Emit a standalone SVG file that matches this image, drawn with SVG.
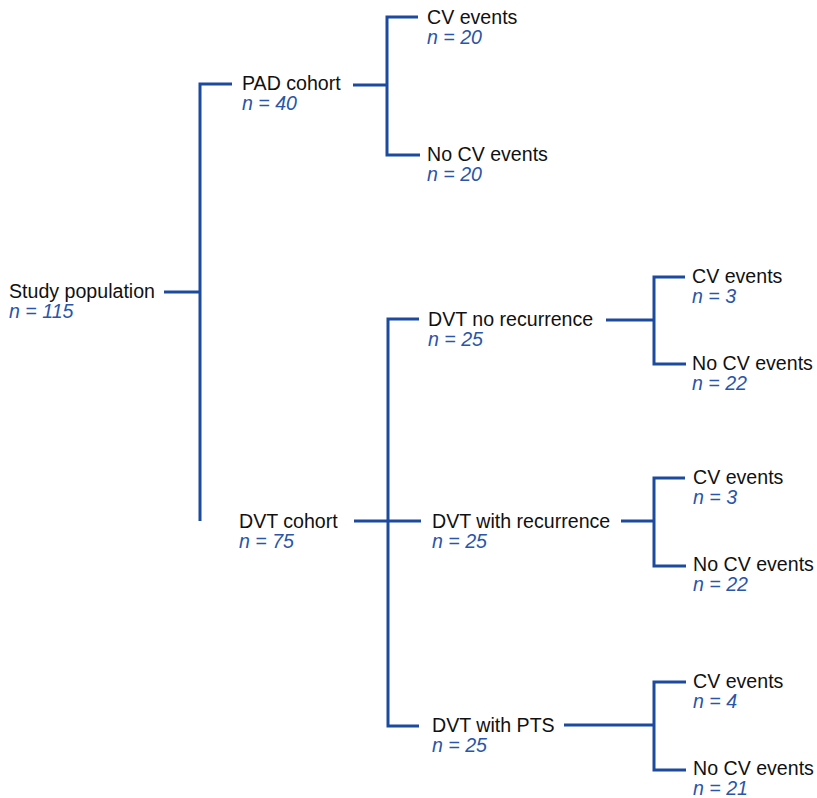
<svg xmlns="http://www.w3.org/2000/svg" width="817" height="798" viewBox="0 0 817 798">
<style>
.t{font-family:"Liberation Sans",Arial,sans-serif;font-size:19.6px;fill:#111}
.n{font-family:"Liberation Sans",Arial,sans-serif;font-size:19.6px;font-style:italic;fill:#2a55a8}
.c{stroke:#1b4a9e;stroke-width:3;fill:none}
</style>
<rect width="817" height="798" fill="#fff"/>
<g id="connectors">
<path class="c" d="M164 292H200M232 84H200V521"/>
<path class="c" d="M353 85H387M418 17H387V155H420"/>
<path class="c" d="M354 521H421M419 319H388V726H419"/>
<path class="c" d="M606 320H654M685 277H654V364H686"/>
<path class="c" d="M621 521H654M685 478H654V566H686"/>
<path class="c" d="M564 725H654M686 682H654V770H686"/>
</g>
<g id="study"><text class="t" x="9" y="298">Study population</text><text class="n" x="9" y="318">n = 115</text></g>
<g id="pad"><text class="t" x="242" y="90">PAD cohort</text><text class="n" x="242" y="110">n = 40</text></g>
<g id="pad-cv"><text class="t" x="427" y="24">CV events</text><text class="n" x="427" y="44">n = 20</text></g>
<g id="pad-nocv"><text class="t" x="427" y="161">No CV events</text><text class="n" x="427" y="181">n = 20</text></g>
<g id="dvt"><text class="t" x="239" y="528">DVT cohort</text><text class="n" x="239" y="548">n = 75</text></g>
<g id="dvt-norec"><text class="t" x="428" y="326">DVT no recurrence</text><text class="n" x="428" y="346">n = 25</text></g>
<g id="dvt-rec"><text class="t" x="432" y="528">DVT with recurrence</text><text class="n" x="432" y="548">n = 25</text></g>
<g id="dvt-pts"><text class="t" x="432" y="732">DVT with PTS</text><text class="n" x="432" y="752">n = 25</text></g>
<g id="norec-cv"><text class="t" x="692" y="283">CV events</text><text class="n" x="692" y="303">n = 3</text></g>
<g id="norec-nocv"><text class="t" x="692" y="370">No CV events</text><text class="n" x="692" y="390">n = 22</text></g>
<g id="rec-cv"><text class="t" x="693" y="484">CV events</text><text class="n" x="693" y="504">n = 3</text></g>
<g id="rec-nocv"><text class="t" x="693" y="571">No CV events</text><text class="n" x="693" y="591">n = 22</text></g>
<g id="pts-cv"><text class="t" x="693" y="688">CV events</text><text class="n" x="693" y="708">n = 4</text></g>
<g id="pts-nocv"><text class="t" x="693" y="775">No CV events</text><text class="n" x="693" y="795">n = 21</text></g>
</svg>
